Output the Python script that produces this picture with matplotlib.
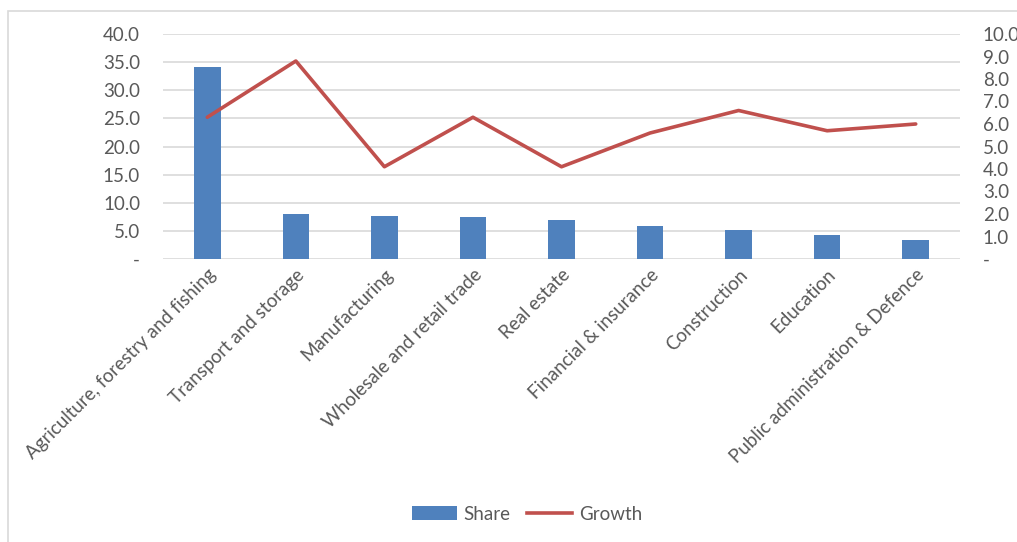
import matplotlib
matplotlib.use("Agg")
import matplotlib.pyplot as plt
from matplotlib.patches import Rectangle
from matplotlib.lines import Line2D
from matplotlib.patches import Patch

categories = ["Agriculture, forestry and fishing", "Transport and storage", "Manufacturing",
              "Wholesale and retail trade", "Real estate", "Financial & insurance",
              "Construction", "Education", "Public administration & Defence"]
share = [34.1, 8.0, 7.7, 7.4, 7.0, 5.8, 5.2, 4.3, 3.4]
growth = [6.3, 8.8, 4.1, 6.3, 4.1, 5.6, 6.6, 5.7, 6.0]
left_ticks = [0, 5, 10, 15, 20, 25, 30, 35, 40]
right_ticks = [0, 1, 2, 3, 4, 5, 6, 7, 8, 9, 10]

plt.rcParams['font.family'] = ['Lato', 'DejaVu Sans']
FS = 13.5
W, H = 1017, 542
fig = plt.figure(figsize=(W/100, H/100), dpi=100)
fig.patches.append(Rectangle((8/W, -0.01), 1.02, (542-11)/H + 0.01, transform=fig.transFigure,
                             fill=False, edgecolor='#D9D9D9', linewidth=1.2))

ax = fig.add_axes([163/W, 1-259/H, (960-163)/W, (259-34)/H])
x = list(range(len(categories)))
ax.bar(x, share, width=0.3, color='#4F81BD', zorder=3)
ax.set_xlim(-0.5, len(categories)-0.5)
ax.set_ylim(0, 40)
ax.set_yticks(left_ticks)
ax.set_yticklabels(['-' if v == 0 else f"{v:.1f}" for v in left_ticks])
ax.grid(axis='y', color='#D9D9D9', linewidth=1.2, zorder=0)
for s in ax.spines.values():
    s.set_visible(False)
ax.tick_params(axis='y', length=0, pad=16.5, labelsize=FS, labelcolor='#595959')
ax.tick_params(axis='x', length=0, pad=5, labelsize=FS, labelcolor='#595959')
ax.set_xticks(x)
ax.set_xticklabels(categories, rotation=45, ha='right', rotation_mode='anchor')

ax2 = ax.twinx()
ax2.plot(x, growth, color='#C0504D', linewidth=2.6, solid_capstyle='round', zorder=4)
ax2.set_ylim(0, 10)
ax2.set_yticks(right_ticks)
ax2.set_yticklabels(['-' if v == 0 else f"{v:.1f}" for v in right_ticks])
for s in ax2.spines.values():
    s.set_visible(False)
ax2.tick_params(axis='y', length=0, pad=16.5, labelsize=FS, labelcolor='#595959')

handles = [Patch(facecolor='#4F81BD', label='Share'),
           Line2D([0], [0], color='#C0504D', linewidth=2.6, label='Growth')]
fig.legend(handles=handles, loc='center', bbox_to_anchor=(527/W, 1-514/H), ncol=2,
           frameon=False, fontsize=FS, labelcolor='#595959', handlelength=2.4,
           handletextpad=0.35, columnspacing=0.9)

fig.savefig("out.png", dpi=100)
